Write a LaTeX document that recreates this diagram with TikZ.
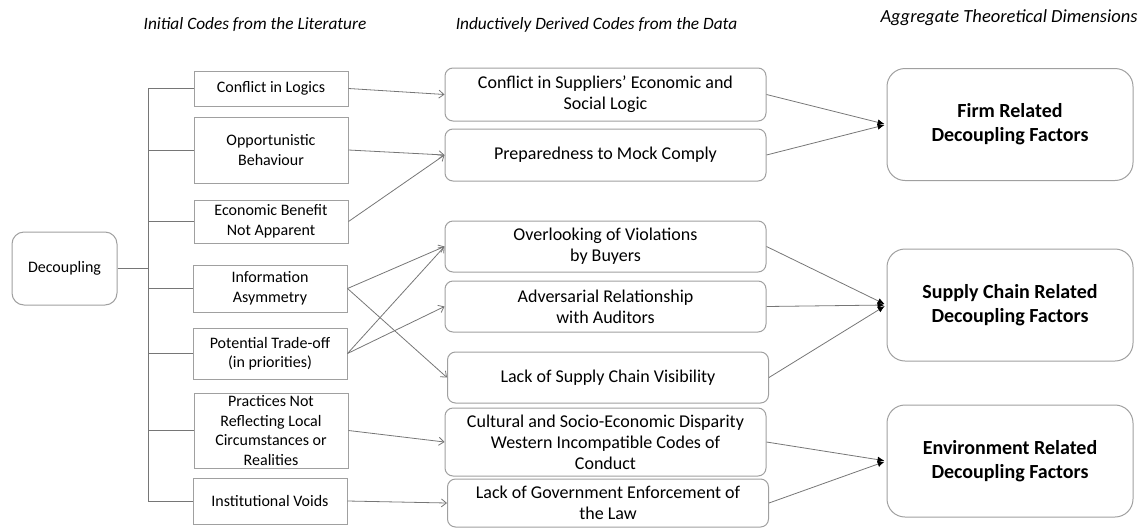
\documentclass[tikz,border=0pt]{standalone}
\usepackage{fontspec}
\setmainfont{Carlito}
\usetikzlibrary{arrows.meta}
\definecolor{boxline}{HTML}{A0A0A0}
\definecolor{linkline}{HTML}{767676}
\tikzset{
  code/.style={draw=boxline, line width=1pt, inner sep=0pt, align=center,
    font=\fontsize{16}{19.5}\selectfont},
  litcode/.style={code, minimum width=154pt},
  datacode/.style={code, rounded corners=8pt, minimum width=321pt,
    font=\fontsize{18}{21}\selectfont},
  dimension/.style={code, rounded corners=18pt, minimum width=246pt, minimum height=112pt,
    font=\fontsize{20}{24}\selectfont\bfseries},
  heading/.style={font=\fontsize{17.3}{20}\selectfont\itshape, inner sep=0pt},
  branch/.style={draw=linkline, line width=0.9pt},
  feed/.style={draw=linkline, line width=0.8pt, -{Straight Barb[length=5pt,width=8pt]}},
  merge/.style={draw=linkline, line width=0.8pt,
    -{Latex[length=7pt,width=6pt,color=black]}, shorten >=2pt}
}
\begin{document}
\begin{tikzpicture}[x=1pt, y=-1pt]
\useasboundingbox (0,0) rectangle (1141,528);

% column headings
\node[heading] (h1) at (255,25) {Initial Codes from the Literature};
\node[heading] (h2) at (596.5,25) {Inductively Derived Codes from the Data};
\node[heading, font=\fontsize{18.5}{21}\selectfont\itshape] (h3) at (1009,18) {Aggregate Theoretical Dimensions};

% root
\node[code, rounded corners=12pt, minimum width=105pt, minimum height=73pt] (dec) at (64.5,268.5) {Decoupling};

% initial codes
\node[litcode, minimum height=35pt] (l1) at (271,88.5) {Conflict in Logics};
\node[litcode, minimum height=66pt] (l2) at (271,150) {Opportunistic\\Behaviour};
\node[litcode, minimum height=43pt] (l3) at (271,221.5) {Economic Benefit\\Not Apparent};
\node[litcode, minimum height=47pt] (l4) at (270,288.5) {Information\\Asymmetry};
\node[litcode, minimum height=51pt] (l5) at (270,353.5) {Potential Trade-off\\(in priorities)};
\node[litcode, minimum height=75pt] (l6) at (271,430.5) {Practices Not\\Reflecting Local\\Circumstances or\\Realities};
\node[litcode, minimum height=46pt] (l7) at (270,501) {Institutional Voids};

% derived codes
\node[datacode, minimum height=53pt] (m1) at (605.5,94.5) {Conflict in Suppliers’ Economic and\\Social Logic};
\node[datacode, minimum height=52pt] (m2) at (605.5,155) {Preparedness to Mock Comply};
\node[datacode, minimum height=51pt] (m3) at (605.5,246.5) {Overlooking of Violations\\by Buyers};
\node[datacode, minimum height=51pt] (m4) at (605.5,306.5) {Adversarial Relationship\\with Auditors};
\node[datacode, minimum height=51pt] (m5) at (608,377.5) {Lack of Supply Chain Visibility};
\node[datacode, minimum height=68pt] (m6) at (605.5,442) {Cultural and Socio-Economic Disparity\\Western Incompatible Codes of\\Conduct};
\node[datacode, minimum height=48pt] (m7) at (608,503) {Lack of Government Enforcement of\\the Law};

% aggregate dimensions
\node[dimension] (d1) at (1010,124.5) {Firm Related\\Decoupling Factors};
\node[dimension] (d2) at (1010,305) {Supply Chain Related\\Decoupling Factors};
\node[dimension] (d3) at (1010,461) {Environment Related\\Decoupling Factors};

% tree from the root to the initial codes
\coordinate (top) at (148,88.5);
\coordinate (bot) at (148,501);
\draw[branch] (top) -- (bot);
\draw[branch] (dec.east) -- (dec.east -| top);
\foreach \n in {l1,l2,l3,l4,l5,l6,l7}
  \draw[branch] (\n.west -| top) -- (\n.west);

% initial codes to derived codes
\draw[feed] (l1.east) -- (m1.west);
\draw[feed] (l2.east) -- (m2.west);
\draw[feed] (l3.east) -- (m2.west);
\draw[feed] (l4.east) -- (m3.west);
\draw[feed] (l4.east) -- (m5.west);
\draw[feed] (l5.east) -- (m3.west);
\draw[feed] (l5.east) -- (m4.west);
\draw[feed] (l6.east) -- (m6.west);
\draw[feed] (l7.east) -- (m7.west);

% derived codes to aggregate dimensions
\draw[merge] (m1.east) -- (d1.west);
\draw[merge] (m2.east) -- (d1.west);
\draw[merge] (m3.east) -- (d2.west);
\draw[merge] (m4.east) -- (d2.west);
\draw[merge] (m5.east) -- (d2.west);
\draw[merge] (m6.east) -- (d3.west);
\draw[merge] (m7.east) -- (d3.west);
\end{tikzpicture}
\end{document}
